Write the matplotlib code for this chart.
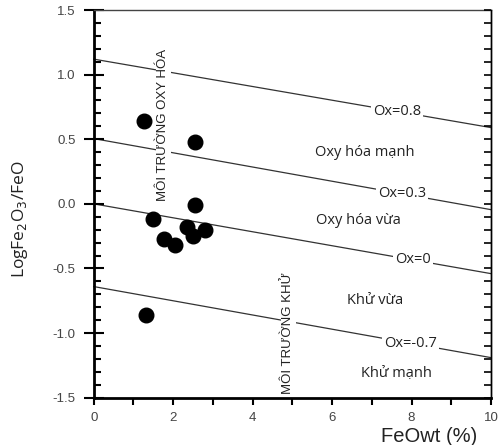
import matplotlib
matplotlib.use("Agg")
import matplotlib.pyplot as plt
import numpy as np
from matplotlib.ticker import MultipleLocator

feo = [1.27, 2.54, 2.54, 1.48, 2.34, 2.79, 1.77, 2.49, 2.05, 1.32]
logratio = [0.64, 0.48, -0.01, -0.12, -0.18, -0.20, -0.27, -0.25, -0.32, -0.86]

ox_names = ["Ox=0.8", "Ox=0.3", "Ox=0", "Ox=-0.7"]
ox_left = [1.12, 0.505, 0.0, -0.64]
ox_right = [0.59, -0.045, -0.54, -1.19]
ox_label_x = [7.63, 7.76, 8.03, 7.97]

zone_names = ["Oxy hóa mạnh", "Oxy hóa vừa", "Khử vừa", "Khử mạnh"]
zone_x = [6.83, 6.66, 7.09, 7.63]
zone_y = [0.40, -0.13, -0.75, -1.31]

env_names = ["MÔI TRƯỜNG OXY HÓA", "MÔI TRƯỜNG KHỬ"]
env_x = [1.75, 4.90]
env_y = [0.61, -1.0]

fig = plt.figure(figsize=(4.99, 4.45), dpi=100)
ax = fig.add_axes([0.1878, 0.1063, 0.7962, 0.8712])
ax.set_xlim(0, 10)
ax.set_ylim(-1.5, 1.5)

lc = "#333333"
for name, yl, yr, lx in zip(ox_names, ox_left, ox_right, ox_label_x):
    ax.plot([0, 10], [yl, yr], color=lc, lw=0.9, zorder=1, clip_on=False)
    ly = yl + (yr - yl) * lx / 10
    ax.text(lx, ly, name, ha="center", va="center", fontsize=10.5,
            family=["Open Sans", "DejaVu Sans"], color="#222222",
            bbox=dict(facecolor="white", edgecolor="none", pad=1.5), zorder=2)

for name, zx, zy in zip(zone_names, zone_x, zone_y):
    ax.text(zx, zy, name, ha="center", va="center", fontsize=10.5,
            family=["Open Sans", "DejaVu Sans"], color="#222222", zorder=2)

for name, ex, ey in zip(env_names, env_x, env_y):
    ax.text(ex, ey, name, ha="center", va="center", fontsize=9.5, rotation=90,
            family=["Liberation Sans Narrow", "Liberation Sans", "DejaVu Sans"],
            color="#222222",
            bbox=dict(facecolor="white", edgecolor="none", pad=1.0), zorder=2)

ax.plot(feo, logratio, "o", color="black", ms=10.5, zorder=3, clip_on=False)

ax.xaxis.set_major_locator(MultipleLocator(2))
ax.xaxis.set_minor_locator(MultipleLocator(1))
ax.yaxis.set_major_locator(MultipleLocator(0.5))
ax.yaxis.set_minor_locator(MultipleLocator(0.1))

ax.tick_params(axis="x", which="both", direction="out", length=5, width=1.5,
               top=False, labelsize=9.5, labelcolor="#444444", pad=5)
ax.tick_params(axis="y", which="major", direction="inout", length=14, width=1.5,
               right=False, labelsize=9.5, labelcolor="#444444", pad=6)
ax.tick_params(axis="y", which="minor", direction="in", length=5, width=1.5, right=False)

for lab in ax.get_xticklabels() + ax.get_yticklabels():
    lab.set_family(["Liberation Sans", "DejaVu Sans"])
ax.set_yticklabels(["%.1f" % v for v in ax.get_yticks()])

# right side ticks
ax2 = ax.twinx()
ax2.set_ylim(-1.5, 1.5)
ax2.yaxis.set_major_locator(MultipleLocator(0.5))
ax2.yaxis.set_minor_locator(MultipleLocator(0.1))
ax2.tick_params(axis="y", which="both", direction="in", length=5, width=1.2,
                labelright=False)
for s in ["top", "bottom", "left"]:
    ax2.spines[s].set_visible(False)
ax2.spines["right"].set_linewidth(1.0)

ax.spines["left"].set_linewidth(2.0)
ax.spines["bottom"].set_linewidth(2.0)
ax.spines["top"].set_linewidth(1.0)
ax.spines["right"].set_linewidth(1.0)
ax.spines["top"].set_color("#444444")

ax.set_ylabel(r"LogFe$_2$O$_3$/FeO", fontsize=12.5, family=["Open Sans", "DejaVu Sans"],
              color="#222222")
ax.yaxis.set_label_coords(-0.16, 0.46)
ax.set_xlabel("FeOwt (%)", fontsize=14.5, family=["Liberation Sans", "DejaVu Sans"],
              color="#222222")
ax.xaxis.set_label_coords(0.845, -0.075)

fig.savefig("out.png", dpi=100)
